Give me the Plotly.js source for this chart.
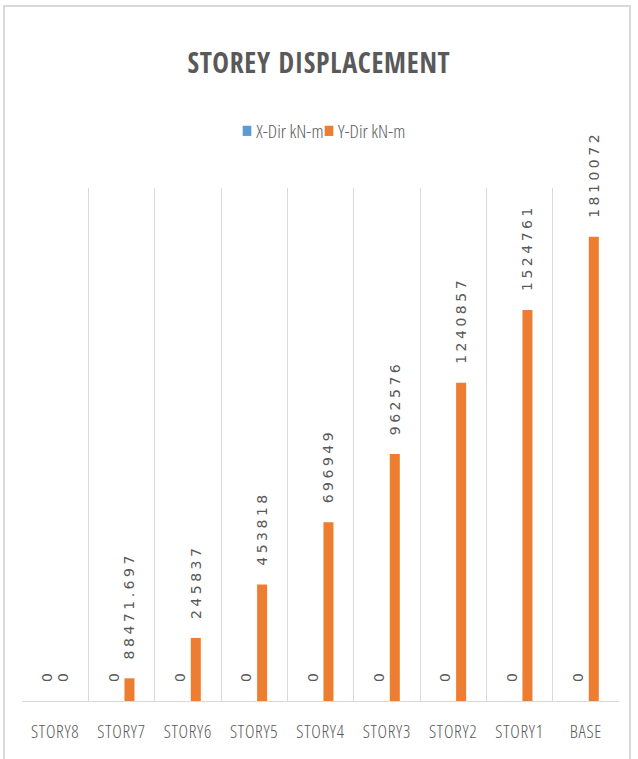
<!DOCTYPE html>
<html>
<head>
<meta charset="utf-8">
<script src="https://cdn.plot.ly/plotly-3.0.1.min.js"></script>
<style>
  html, body { margin: 0; padding: 0; background: #fff; }
  #wrap { position: relative; width: 638px; height: 759px; overflow: hidden; }
  #chart { width: 638px; height: 759px; }
  #frame { position: absolute; left: 3px; top: 5px; width: 628px; height: 800px;
           border: 2px solid #d9d9d9; pointer-events: none; box-sizing: border-box; }
  text.bartext { letter-spacing: 3.5px; }
  .xtick text, text.legendtext, g[class*="legend"] text, text.gtitle { font-stretch: condensed; }
  .xtick text { letter-spacing: 0.7px; }
  text.gtitle { letter-spacing: 0.7px; }
  g.legendpoints path { transform: translateX(31px) scale(0.72, 0.85); }
</style>
</head>
<body>
<div id="wrap">
  <div id="chart"></div>
  <div id="frame"></div>
</div>
<script>
const categories = ["STORY8", "STORY7", "STORY6", "STORY5", "STORY4", "STORY3", "STORY2", "STORY1", "BASE"];
const xDirValues = [0, 0, 0, 0, 0, 0, 0, 0, 0];
const yDirValues = [0, 88471.697, 245837, 453818, 696949, 962576, 1240857, 1524761, 1810072];
const seriesNames = ["X-Dir kN-m", "Y-Dir kN-m"];

const gray = "#595959";
const pad = "\u00a0\u00a0";
const labelFont = { family: "DejaVu Sans", size: 14, color: gray };

function barTrace(name, values, color, legendId) {
  return {
    type: "bar",
    name: name,
    x: categories,
    y: values,
    legend: legendId,
    marker: { color: color },
    text: values.map(v => pad + String(v)),
    textposition: "outside",
    textangle: -90,
    textfont: labelFont,
    constraintext: "none",
    cliponaxis: false,
    hoverinfo: "x+y+name"
  };
}

const data = [
  barTrace(seriesNames[0], xDirValues, "#5B9BD5", "legend"),
  barTrace(seriesNames[1], yDirValues, "#ED7D31", "legend2")
];

function legendBox(leftPx) {
  return {
    orientation: "h",
    x: leftPx / 638, xanchor: "left", xref: "container",
    y: 1 - 131 / 759, yanchor: "middle", yref: "container",
    font: { family: "Open Sans", size: 19, color: gray, weight: 300 },
    itemwidth: 30,
    bgcolor: "rgba(0,0,0,0)"
  };
}

const layout = {
  width: 638,
  height: 759,
  paper_bgcolor: "#ffffff",
  plot_bgcolor: "#ffffff",
  margin: { l: 22, r: 19, t: 188, b: 58 },
  barmode: "group",
  bargap: 0.52,
  bargroupgap: 0.37,
  title: {
    text: "STOREY DISPLACEMENT",
    font: { family: "Open Sans Condensed, Open Sans, sans-serif", size: 28, color: gray, weight: "bold" },
    x: 0.5, xanchor: "center",
    y: 1 - 63 / 759, yanchor: "middle", yref: "container"
  },
  showlegend: true,
  legend: legendBox(216),
  legend2: legendBox(298),
  xaxis: {
    type: "category",
    tickson: "boundaries",
    showgrid: true,
    gridcolor: "#d9d9d9",
    gridwidth: 1,
    showline: true,
    linecolor: "#d9d9d9",
    linewidth: 1,
    ticks: "",
    tickangle: 0,
    ticklabelstandoff: 14,
    tickfont: { family: "Open Sans", size: 18, color: gray, weight: 300 },
    zeroline: false
  },
  yaxis: {
    range: [0, 2000000],
    showgrid: false,
    zeroline: false,
    showticklabels: false,
    ticks: "",
    showline: false
  }
};

Plotly.newPlot("chart", data, layout, { displayModeBar: false, staticPlot: true });
</script>
</body>
</html>
